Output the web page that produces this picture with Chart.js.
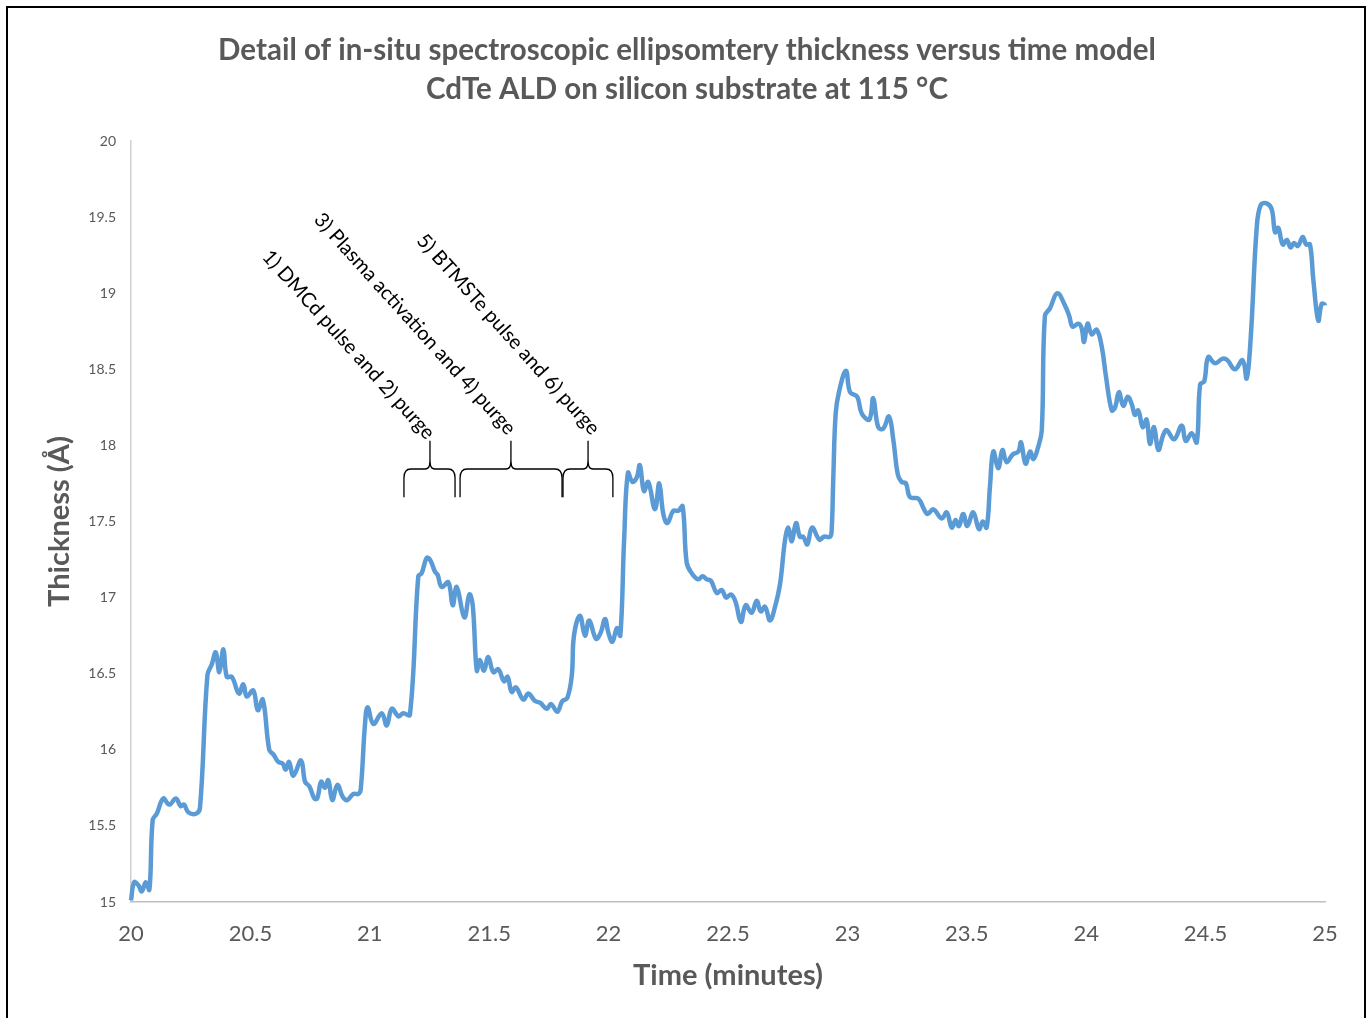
<!DOCTYPE html>
<html>
<head>
<meta charset="utf-8">
<script src="https://cdn.jsdelivr.net/npm/chart.js@4.4.1/dist/chart.umd.min.js"></script>
<style>
  html, body { margin: 0; padding: 0; background: #fff; }
  #wrap { position: relative; width: 1369px; height: 1018px; }
</style>
</head>
<body>
<div id="wrap"><canvas id="thicknessChart" width="1369" height="1018"></canvas></div>
<script>
// time (minutes) and modelled thickness (Angstrom)
const times = [
  20.000, 20.013, 20.031, 20.045, 20.062, 20.077, 20.091, 20.108, 20.135, 20.160,
  20.188, 20.208, 20.222, 20.240, 20.272, 20.289, 20.320, 20.338, 20.355, 20.370,
  20.387, 20.401, 20.422, 20.452, 20.470, 20.485, 20.512, 20.531, 20.552, 20.579,
  20.596, 20.617, 20.635, 20.648, 20.662, 20.680, 20.712, 20.729, 20.747, 20.768,
  20.780, 20.796, 20.812, 20.826, 20.843, 20.864, 20.887, 20.906, 20.931, 20.952,
  20.962, 20.980, 20.991, 21.015, 21.050, 21.071, 21.092, 21.120, 21.140, 21.168,
  21.203, 21.217, 21.238, 21.252, 21.273, 21.284, 21.301, 21.329, 21.347, 21.364,
  21.396, 21.417, 21.431, 21.448, 21.461, 21.478, 21.496, 21.517, 21.538, 21.562,
  21.577, 21.594, 21.612, 21.643, 21.664, 21.692, 21.713, 21.741, 21.759, 21.785,
  21.806, 21.827, 21.846, 21.855, 21.880, 21.901, 21.919, 21.947, 21.967, 21.985,
  21.999, 22.016, 22.035, 22.049, 22.065, 22.081, 22.100, 22.118, 22.131, 22.148,
  22.166, 22.194, 22.212, 22.229, 22.246, 22.271, 22.292, 22.310, 22.327, 22.348,
  22.375, 22.394, 22.411, 22.429, 22.453, 22.474, 22.492, 22.513, 22.532, 22.554,
  22.574, 22.599, 22.620, 22.637, 22.655, 22.676, 22.697, 22.718, 22.739, 22.753,
  22.767, 22.785, 22.801, 22.815, 22.832, 22.852, 22.883, 22.902, 22.927, 22.934,
  22.941, 22.951, 22.966, 22.994, 23.011, 23.041, 23.060, 23.092, 23.108, 23.129,
  23.150, 23.174, 23.192, 23.211, 23.227, 23.245, 23.262, 23.297, 23.321, 23.336,
  23.360, 23.395, 23.416, 23.437, 23.453, 23.467, 23.485, 23.502, 23.527, 23.551,
  23.567, 23.583, 23.597, 23.611, 23.632, 23.649, 23.667, 23.692, 23.716, 23.727,
  23.746, 23.765, 23.779, 23.799, 23.814, 23.827, 23.848, 23.879, 23.911, 23.929,
  23.943, 23.967, 23.981, 23.991, 24.006, 24.023, 24.044, 24.065, 24.083, 24.107,
  24.121, 24.137, 24.155, 24.174, 24.191, 24.204, 24.218, 24.237, 24.253, 24.267,
  24.284, 24.302, 24.323, 24.337, 24.368, 24.400, 24.417, 24.442, 24.463, 24.477,
  24.494, 24.511, 24.539, 24.572, 24.591, 24.623, 24.655, 24.672, 24.689, 24.714,
  24.731, 24.756, 24.777, 24.791, 24.804, 24.823, 24.840, 24.856, 24.870, 24.886,
  24.907, 24.921, 24.937, 24.951, 24.972, 24.986, 25.000, 25.007
];
const thickness = [
  15.01, 15.13, 15.11, 15.07, 15.13, 15.08, 15.54, 15.58, 15.68, 15.64,
  15.68, 15.63, 15.64, 15.59, 15.58, 15.62, 16.49, 16.56, 16.64, 16.51,
  16.66, 16.48, 16.48, 16.37, 16.43, 16.35, 16.39, 16.26, 16.33, 16.00,
  15.97, 15.92, 15.91, 15.87, 15.92, 15.83, 15.93, 15.79, 15.76, 15.68,
  15.68, 15.79, 15.75, 15.80, 15.67, 15.77, 15.69, 15.67, 15.71, 15.71,
  15.74, 16.17, 16.28, 16.17, 16.24, 16.16, 16.27, 16.22, 16.24, 16.23,
  17.14, 17.16, 17.26, 17.25, 17.17, 17.15, 17.07, 17.10, 16.95, 17.07,
  16.87, 17.02, 16.95, 16.52, 16.59, 16.52, 16.61, 16.51, 16.53, 16.45,
  16.48, 16.38, 16.41, 16.33, 16.37, 16.32, 16.31, 16.27, 16.30, 16.25,
  16.32, 16.34, 16.49, 16.75, 16.88, 16.75, 16.85, 16.73, 16.77, 16.86,
  16.77, 16.71, 16.80, 16.75, 17.38, 17.82, 17.76, 17.79, 17.87, 17.70,
  17.76, 17.58, 17.75, 17.55, 17.49, 17.57, 17.57, 17.60, 17.23, 17.16,
  17.12, 17.14, 17.12, 17.11, 17.03, 17.05, 17.00, 17.02, 16.97, 16.84,
  16.95, 16.90, 16.98, 16.91, 16.94, 16.85, 16.94, 17.09, 17.38, 17.46,
  17.37, 17.49, 17.40, 17.40, 17.35, 17.46, 17.38, 17.40, 17.40, 17.44,
  17.79, 18.21, 18.36, 18.49, 18.35, 18.32, 18.21, 18.17, 18.31, 18.12,
  18.11, 18.19, 18.04, 17.81, 17.76, 17.75, 17.66, 17.65, 17.58, 17.55,
  17.58, 17.52, 17.56, 17.46, 17.51, 17.47, 17.55, 17.47, 17.56, 17.45,
  17.50, 17.46, 17.73, 17.96, 17.85, 17.97, 17.89, 17.94, 17.96, 18.02,
  17.88, 17.96, 17.91, 17.99, 18.10, 18.85, 18.90, 19.00, 18.92, 18.85,
  18.78, 18.80, 18.77, 18.68, 18.80, 18.73, 18.76, 18.65, 18.45, 18.23,
  18.25, 18.35, 18.26, 18.32, 18.27, 18.20, 18.23, 18.12, 18.17, 18.01,
  18.12, 17.97, 18.07, 18.10, 18.04, 18.13, 18.03, 18.08, 18.02, 18.40,
  18.42, 18.58, 18.54, 18.57, 18.56, 18.50, 18.56, 18.44, 18.71, 19.43,
  19.58, 19.59, 19.55, 19.40, 19.43, 19.32, 19.35, 19.30, 19.33, 19.31,
  19.37, 19.32, 19.32, 19.09, 18.82, 18.93, 18.92, 18.78
];

const titleLines = [
  "Detail of in-situ spectroscopic ellipsomtery thickness versus time model",
  "CdTe ALD on silicon substrate at 115 °C"
];
const stepLabels = [
  "1) DMCd pulse and 2) purge",
  "3) Plasma activation and 4) purge",
  "5) BTMSTe pulse and 6) purge"
];

// where each label ends and each brace sits, in axis units
const notes = [
  { endX: 21.256, endY: 18.06, left: 21.143, mid: 21.252, right: 21.357 },
  { endX: 21.595, endY: 18.09, left: 21.378, mid: 21.591, right: 21.805 },
  { endX: 21.947, endY: 18.09, left: 21.809, mid: 21.914, right: 22.018 }
];
const braceBottom = 17.66, braceBar = 17.845, braceTip = 18.03;

const grey = "#595959";
const fontFamily = "Lato, 'Open Sans', sans-serif";

const frameAndTitle = {
  id: "frameAndTitle",
  beforeDraw(chart) {
    const ctx = chart.ctx;
    ctx.save();
    ctx.fillStyle = "#fff";
    ctx.fillRect(0, 0, chart.width, chart.height);
    ctx.restore();
  },
  afterDraw(chart) {
    const ctx = chart.ctx;
    ctx.save();
    ctx.strokeStyle = "#000";
    ctx.lineWidth = 2;
    ctx.strokeRect(7, 7, 1358, 1100);

    ctx.fillStyle = grey;
    ctx.font = "bold 29.5px " + fontFamily;
    ctx.textAlign = "center";
    ctx.textBaseline = "middle";
    ctx.fillText(titleLines[0], 687, 50);
    ctx.fillText(titleLines[1], 687, 89);
    ctx.restore();
  }
};

const stepNotes = {
  id: "stepNotes",
  afterDatasetsDraw(chart) {
    const {ctx, scales: {x, y}} = chart;
    ctx.save();
    ctx.strokeStyle = "#000";
    ctx.lineWidth = 1.3;
    ctx.fillStyle = "#000";
    ctx.font = "20px " + fontFamily;
    ctx.textAlign = "right";
    ctx.textBaseline = "middle";

    notes.forEach((n, i) => {
      const l = x.getPixelForValue(n.left);
      const m = x.getPixelForValue(n.mid);
      const r = x.getPixelForValue(n.right);
      const yb = y.getPixelForValue(braceBottom);
      const ybar = y.getPixelForValue(braceBar);
      const yt = y.getPixelForValue(braceTip);

      ctx.beginPath();
      ctx.moveTo(l, yb);
      ctx.lineTo(l, ybar + 9);
      ctx.quadraticCurveTo(l, ybar, l + 7, ybar);
      ctx.lineTo(m - 5, ybar);
      ctx.bezierCurveTo(m - 1, ybar, m, ybar - 3, m, ybar - 10);
      ctx.lineTo(m, yt);
      ctx.moveTo(m, ybar - 10);
      ctx.bezierCurveTo(m, ybar - 3, m + 1, ybar, m + 5, ybar);
      ctx.lineTo(r - 7, ybar);
      ctx.quadraticCurveTo(r, ybar, r, ybar + 9);
      ctx.lineTo(r, yb);
      ctx.stroke();

      ctx.save();
      ctx.translate(x.getPixelForValue(n.endX), y.getPixelForValue(n.endY));
      ctx.rotate(48 * Math.PI / 180);
      ctx.fillText(stepLabels[i], 0, 0);
      ctx.restore();
    });
    ctx.restore();
  }
};

const plainTick = (v) => String(Math.round(v * 10) / 10);

new Chart(document.getElementById("thicknessChart"), {
  type: "line",
  data: {
    datasets: [{
      label: "Thickness",
      data: times.map((t, i) => ({x: t, y: thickness[i]})),
      borderColor: "#5b9bd5",
      borderWidth: 4.5,
      pointRadius: 0,
      tension: 0.4,
      fill: false,
      clip: false
    }]
  },
  options: {
    responsive: false,
    animation: false,
    layout: { padding: { top: 141, right: 44, left: 0, bottom: 0 } },
    plugins: {
      legend: { display: false },
      tooltip: { enabled: false },
      title: { display: false }
    },
    scales: {
      x: {
        type: "linear",
        min: 20,
        max: 25,
        afterFit: (s) => { s.height = 116; },
        grid: { display: false, drawTicks: false },
        border: { display: true, color: "#bfbfbf", width: 1.5 },
        ticks: {
          stepSize: 0.5,
          padding: 19,
          color: grey,
          font: { family: fontFamily, size: 22 },
          callback: plainTick
        },
        title: {
          display: true,
          text: "Time (minutes)",
          color: grey,
          font: { family: fontFamily, size: 29, weight: "bold" },
          padding: { top: 0, bottom: 25 }
        }
      },
      y: {
        min: 15,
        max: 20,
        afterFit: (s) => { s.width = 131; },
        grid: { display: false, drawTicks: false },
        border: { display: true, color: "#d0d0d0", width: 1.5 },
        ticks: {
          stepSize: 0.5,
          padding: 15,
          color: grey,
          font: { family: fontFamily, size: 14 },
          callback: plainTick
        },
        title: {
          display: true,
          text: "Thickness (Å)",
          color: grey,
          font: { family: fontFamily, size: 29, weight: "bold" },
          padding: { top: 42, bottom: 0 }
        }
      }
    }
  },
  plugins: [frameAndTitle, stepNotes]
});
</script>
</body>
</html>
